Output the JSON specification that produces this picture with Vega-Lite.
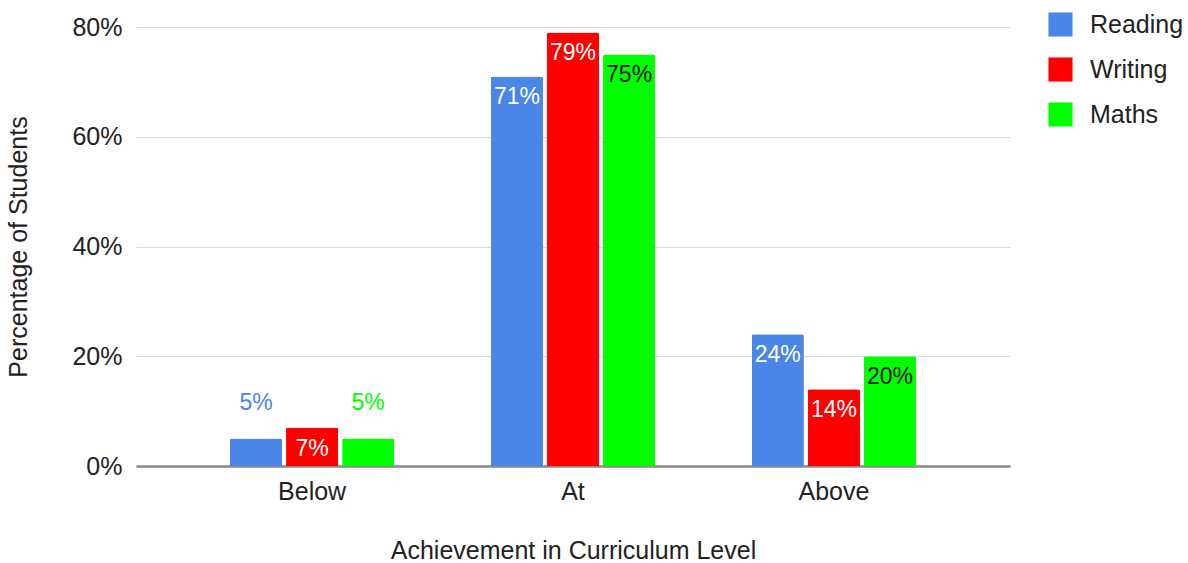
{
  "$schema": "https://vega.github.io/schema/vega-lite/v6.json",
  "autosize": {"type": "none"},
  "padding": {"left": 136, "top": 27, "right": 178, "bottom": 97},
  "width": 874,
  "height": 439,
  "background": "white",
  "config": {
    "font": "Liberation Sans",
    "view": {"stroke": null},
    "axis": {"labelFont": "Liberation Sans", "titleFont": "Liberation Sans", "labelColor": "#222", "titleColor": "#222", "titleFontWeight": "normal"}
  },
  "data": {
    "values": [
      {"level": "Below", "subject": "Reading", "value": 0.05},
      {"level": "Below", "subject": "Writing", "value": 0.07},
      {"level": "Below", "subject": "Maths", "value": 0.05},
      {"level": "At", "subject": "Reading", "value": 0.71},
      {"level": "At", "subject": "Writing", "value": 0.79},
      {"level": "At", "subject": "Maths", "value": 0.75},
      {"level": "Above", "subject": "Reading", "value": 0.24},
      {"level": "Above", "subject": "Writing", "value": 0.14},
      {"level": "Above", "subject": "Maths", "value": 0.20}
    ]
  },
  "encoding": {
    "x": {
      "field": "level", "type": "nominal", "sort": ["Below", "At", "Above"],
      "scale": {"paddingInner": 0.37, "paddingOuter": 0.36},
      "axis": {"title": "Achievement in Curriculum Level", "labelAngle": 0, "labelFontSize": 25, "titleFontSize": 25, "labelPadding": 13, "titlePadding": 34, "ticks": false, "domainColor": "#888", "domainWidth": 2.5, "grid": false}
    },
    "xOffset": {"field": "subject", "type": "nominal", "sort": ["Reading", "Writing", "Maths"], "scale": {"paddingInner": 0.07, "paddingOuter": 0}},
    "y": {
      "field": "value", "type": "quantitative",
      "scale": {"domain": [0, 0.8]},
      "axis": {"title": "Percentage of Students", "format": ".0%", "values": [0, 0.2, 0.4, 0.6, 0.8], "labelFontSize": 25, "titleFontSize": 25, "labelPadding": 14, "titlePadding": 40, "ticks": false, "domain": false, "gridColor": "#d9d9d9", "gridWidth": 1.2}
    }
  },
  "layer": [
    {
      "mark": {"type": "bar", "cornerRadiusTopLeft": 2, "cornerRadiusTopRight": 2},
      "encoding": {
        "color": {
          "field": "subject", "type": "nominal", "sort": ["Reading", "Writing", "Maths"],
          "scale": {"domain": ["Reading", "Writing", "Maths"], "range": ["#4a86e8", "#ff0000", "#00ff00"]},
          "legend": {"title": null, "orient": "none", "legendX": 912, "legendY": -15, "symbolType": "square", "symbolSize": 580, "symbolStrokeWidth": 0, "symbolOpacity": 1, "labelFontSize": 25, "labelFont": "Liberation Sans", "labelColor": "#222", "labelOffset": 17, "rowPadding": 19}
        }
      }
    },
    {
      "transform": [{"filter": "datum.value >= 0.06"}],
      "mark": {"type": "text", "baseline": "middle", "dy": 21, "fontSize": 23},
      "encoding": {
        "text": {"field": "value", "type": "quantitative", "format": ".0%"},
        "color": {"condition": {"test": "datum.subject === 'Maths'", "value": "#111111"}, "value": "#ffffff"}
      }
    },
    {
      "transform": [{"filter": "datum.value < 0.06"}],
      "mark": {"type": "text", "baseline": "middle", "dy": -36, "fontSize": 23},
      "encoding": {
        "text": {"field": "value", "type": "quantitative", "format": ".0%"},
        "color": {"field": "subject", "type": "nominal", "legend": null}
      }
    }
  ]
}
